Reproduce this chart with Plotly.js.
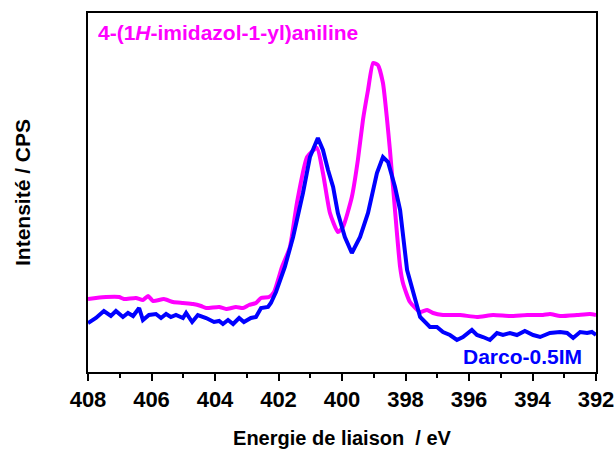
<!DOCTYPE html>
<html>
<head>
<meta charset="utf-8">
<script src="https://cdn.plot.ly/plotly-3.0.1.min.js"></script>
<style>html,body{margin:0;padding:0;background:#fff;}#chart{width:615px;height:453px;}</style>
</head>
<body>
<div id="chart"></div>
<script>
// Darco-0.5IM (blue) : binding energy (eV) and intensity (arbitrary units)
const darcoE = [408.00,407.75,407.50,407.28,407.12,406.90,406.74,406.58,406.39,406.27,406.08,405.86,405.70,405.54,405.39,405.23,405.01,404.91,404.72,404.54,404.28,404.03,403.87,403.75,403.59,403.43,403.24,403.09,402.87,402.71,402.55,402.33,402.24,402.08,401.80,401.54,401.23,401.01,400.76,400.60,400.44,400.28,400.13,399.91,399.69,399.43,399.18,398.90,398.71,398.55,398.33,398.17,397.95,397.76,397.54,397.23,397.01,396.82,396.60,396.38,396.19,395.91,395.75,395.56,395.34,395.12,394.93,394.71,394.49,394.24,393.98,393.76,393.45,393.13,392.91,392.72,392.50,392.28,392.13,392.00];
const darcoI = [49,54,61,56,61,55,59,56,64,52,57,58,54,58,55,57,54,59,50,57,54,50,51,48,52,48,54,50,54,55,64,65,69,80,105,135,179,215,234,222,202,185,159,135,119,135,159,199,215,210,185,162,102,79,55,45,45,40,37,32,35,42,37,35,32,39,37,39,37,41,37,35,39,40,39,34,40,39,40,37];

// 4-(1H-imidazol-1-yl)aniline (magenta)
const anilE = [408.00,407.75,407.43,407.02,406.87,406.49,406.27,406.11,405.95,405.61,405.32,405.01,404.69,404.44,404.28,403.87,403.65,403.34,403.12,402.93,402.71,402.55,402.30,402.14,401.89,401.64,401.42,401.10,400.79,400.60,400.38,400.13,399.97,399.69,399.50,399.34,399.18,399.02,398.87,398.71,398.58,398.49,398.27,398.17,398.08,397.86,397.54,397.32,397.13,396.82,396.28,395.75,395.24,394.71,394.17,393.67,393.45,393.13,392.60,392.19,392.00];
const anilI = [73,74,75,75,73,74,72,76,71,73,70,69,68,66,64,65,63,65,64,67,69,74,75,80,105,125,169,215,224,199,159,140,145,175,212,252,282,309,307,289,252,222,139,105,89,70,60,62,59,57,57,55,57,56,57,57,58,56,57,58,57];

const xTicks = [408,406,404,402,400,398,396,394,392];

const fam = '"Liberation Sans", Arial, sans-serif';

const traces = [
  {x: anilE, y: anilI, type: 'scatter', mode: 'lines', name: '4-(1H-imidazol-1-yl)aniline',
   line: {color: '#ff00ff', width: 4, shape: 'spline', smoothing: 0.5}},
  {x: darcoE, y: darcoI, type: 'scatter', mode: 'lines', name: 'Darco-0.5IM',
   line: {color: '#0000ff', width: 4}}
];

const layout = {
  width: 615, height: 453,
  margin: {l: 88, r: 19, t: 13, b: 81},
  paper_bgcolor: '#fff', plot_bgcolor: '#fff',
  showlegend: false,
  font: {family: fam, color: '#000', size: 18, weight: 'bold'},
  xaxis: {
    range: [408, 392], tickvals: xTicks, ticktext: xTicks.map(String),
    showgrid: false, zeroline: false,
    showline: true, mirror: true, linecolor: '#000', linewidth: 2,
    ticks: 'outside', ticklen: 7, tickwidth: 2, tickcolor: '#000',
    minor: {dtick: 1, ticks: 'outside', ticklen: 4, tickwidth: 2, tickcolor: '#000'},
    tickfont: {family: fam, size: 22, color: '#000', weight: 'bold'},
    title: {text: 'Energie de liaison  / eV', font: {family: fam, size: 20, color: '#000', weight: 'bold'}, standoff: 20}
  },
  yaxis: {
    range: [0, 359], showticklabels: false, ticks: '',
    showgrid: false, zeroline: false,
    showline: true, mirror: true, linecolor: '#000', linewidth: 2,
    title: {text: 'Intensité / CPS', font: {family: fam, size: 21, color: '#000', weight: 'bold'}, standoff: 50}
  },
  annotations: [
    {xref: 'paper', yref: 'paper', x: 0.016, y: 0.945, xanchor: 'left', yanchor: 'middle', showarrow: false,
     text: '4-(1<i>H</i>-imidazol-1-yl)aniline', font: {family: fam, size: 21, color: '#ff00ff', weight: 'bold'}},
    {xref: 'paper', yref: 'paper', x: 0.976, y: 0.042, xanchor: 'right', yanchor: 'middle', showarrow: false,
     text: 'Darco-0.5IM', font: {family: fam, size: 21, color: '#0000ff', weight: 'bold'}}
  ]
};

Plotly.newPlot('chart', traces, layout, {displayModeBar: false, staticPlot: true});
</script>
</body>
</html>
